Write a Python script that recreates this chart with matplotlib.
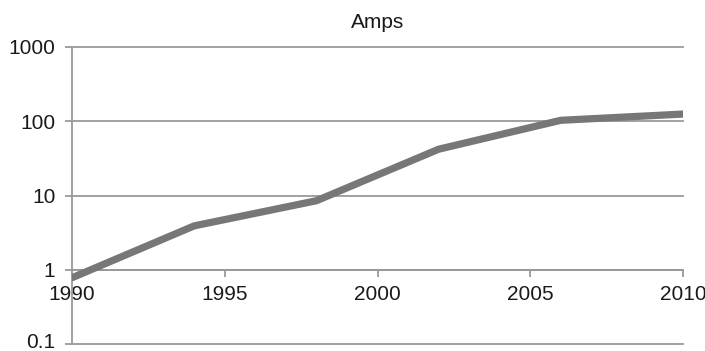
import matplotlib
matplotlib.use("Agg")
import matplotlib.pyplot as plt
import matplotlib.transforms as mtransforms
from matplotlib.ticker import FixedLocator, FixedFormatter, NullLocator

years = [1990, 1994, 1998, 2002, 2006, 2010]
amps = [0.78, 3.9, 8.5, 42, 103, 125]
x_ticks = [1990, 1995, 2000, 2005, 2010]
y_ticks = [0.1, 1, 10, 100, 1000]
y_labels = ["0.1", "1", "10", "100", "1000"]

plt.rcParams['font.family'] = ['Liberation Sans', 'DejaVu Sans']

fig = plt.figure(figsize=(7.05, 3.51), dpi=100)
ax = fig.add_axes([72/705, 1-344/351, (683-72)/705, (344-47)/351])

grid_c = '#9a9a9a'
ax.plot(years, amps, color='#777777', lw=5.2, solid_capstyle='round', solid_joinstyle='round', zorder=3)

ax.set_yscale('log')
ax.set_ylim(0.1, 1000)
ax.set_xlim(1990, 2010)
ax.yaxis.set_major_locator(FixedLocator(y_ticks))
ax.yaxis.set_major_formatter(FixedFormatter(y_labels))
ax.yaxis.set_minor_locator(NullLocator())
ax.set_xticks(x_ticks)
ax.set_xticklabels([str(t) for t in x_ticks])

ax.grid(axis='y', color=grid_c, lw=1.3, zorder=1)
for gl in ax.yaxis.get_gridlines():
    gl.set_clip_on(False)

ax.spines['top'].set_visible(False)
ax.spines['right'].set_visible(False)
ax.spines['left'].set_color(grid_c)
ax.spines['left'].set_linewidth(1.3)
ax.spines['bottom'].set_position(('data', 1))
ax.spines['bottom'].set_color(grid_c)
ax.spines['bottom'].set_linewidth(1.3)

ax.tick_params(axis='both', colors=grid_c, labelcolor='#1a1a1a', labelsize=15, length=5, width=1.3)
ax.tick_params(axis='y', pad=7)
ax.tick_params(axis='x', pad=6)

# nudge the bottom label slightly up so it stays inside the canvas
lab0 = ax.get_yticklabels()[0]
lab0.set_transform(lab0.get_transform() + mtransforms.ScaledTranslation(0, 4/100, fig.dpi_scale_trans))

ax.set_title('Amps', fontsize=15, color='#1a1a1a', pad=13.5)

fig.savefig('out.png', dpi=100)
